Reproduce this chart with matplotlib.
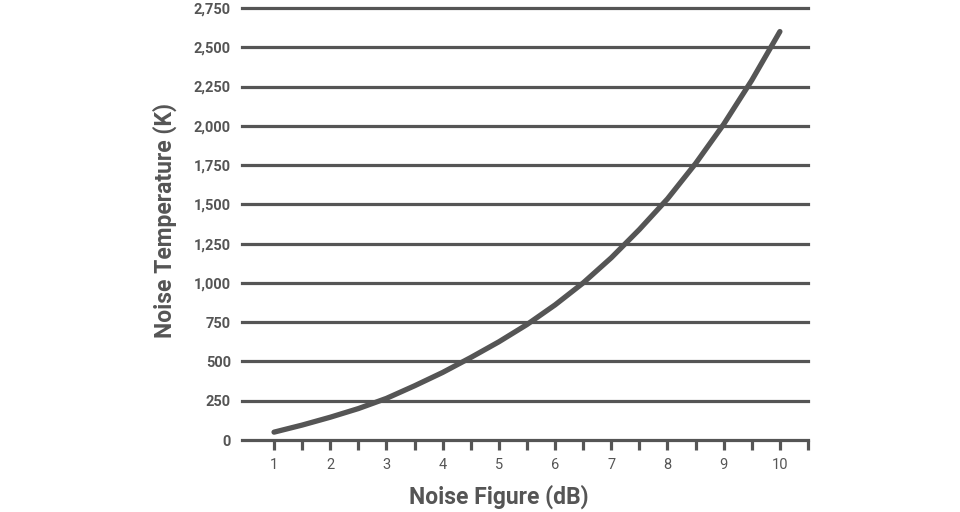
import matplotlib.pyplot as plt
from matplotlib.ticker import FixedLocator, FuncFormatter

GRAY = "#555555"

plt.rcParams["font.family"] = ["Roboto", "DejaVu Sans"]

# noise figure (dB) vs noise temperature (K)
noise_figure = [1, 1.5, 2, 2.5, 3, 3.5, 4, 4.5, 5, 5.5, 6, 6.5, 7, 7.5, 8, 8.5, 9, 9.5, 10]
noise_temp = [50, 95, 145, 200, 265, 345, 430, 525, 625, 735, 860, 1000, 1160, 1340, 1535, 1760, 2010, 2290, 2600]

x_ticks = [1, 2, 3, 4, 5, 6, 7, 8, 9, 10]
x_minor = [1.5, 2.5, 3.5, 4.5, 5.5, 6.5, 7.5, 8.5, 9.5, 10.5]
y_ticks = [0, 250, 500, 750, 1000, 1250, 1500, 1750, 2000, 2250, 2500, 2750]

fig = plt.figure(figsize=(9.6, 5.12), dpi=100, facecolor="white")
ax = fig.add_axes([242 / 960, 72 / 512, 566 / 960, 432 / 512])
ax.set_facecolor("white")
ax.set_xlim(0.43, 10.5)
ax.set_ylim(0, 2750)

for yv in y_ticks[1:]:
    ax.axhline(yv, color=GRAY, lw=2.3, clip_on=False, zorder=1)

ax.plot(noise_figure, noise_temp, color=GRAY, lw=3.8, solid_capstyle="round",
        solid_joinstyle="round", zorder=3)

for s in ["top", "right", "left"]:
    ax.spines[s].set_visible(False)
ax.spines["bottom"].set_color(GRAY)
ax.spines["bottom"].set_linewidth(2.3)

ax.set_xticks(x_ticks)
ax.xaxis.set_minor_locator(FixedLocator(x_minor))
ax.set_yticks(y_ticks)
ax.yaxis.set_major_formatter(FuncFormatter(lambda v, p: f"{int(v):,}"))

ax.tick_params(axis="x", which="both", direction="out", length=7, width=2.3,
               color=GRAY, labelcolor=GRAY, labelsize=10.5, pad=6)
ax.tick_params(axis="y", length=0, pad=8, labelcolor=GRAY, labelsize=10.5)
for lab in ax.get_yticklabels():
    lab.set_fontweight("bold")

fig.text(499 / 960, 1 - 497 / 512, "Noise Figure (dB)", ha="center", va="center",
         color=GRAY, fontsize=16.5, fontweight="bold")
fig.text(165 / 960, 1 - 220 / 512, "Noise Temperature (K)", ha="center", va="center",
         rotation=90, color=GRAY, fontsize=16.5, fontweight="bold")

fig.savefig("out.png", dpi=100, facecolor="white")
